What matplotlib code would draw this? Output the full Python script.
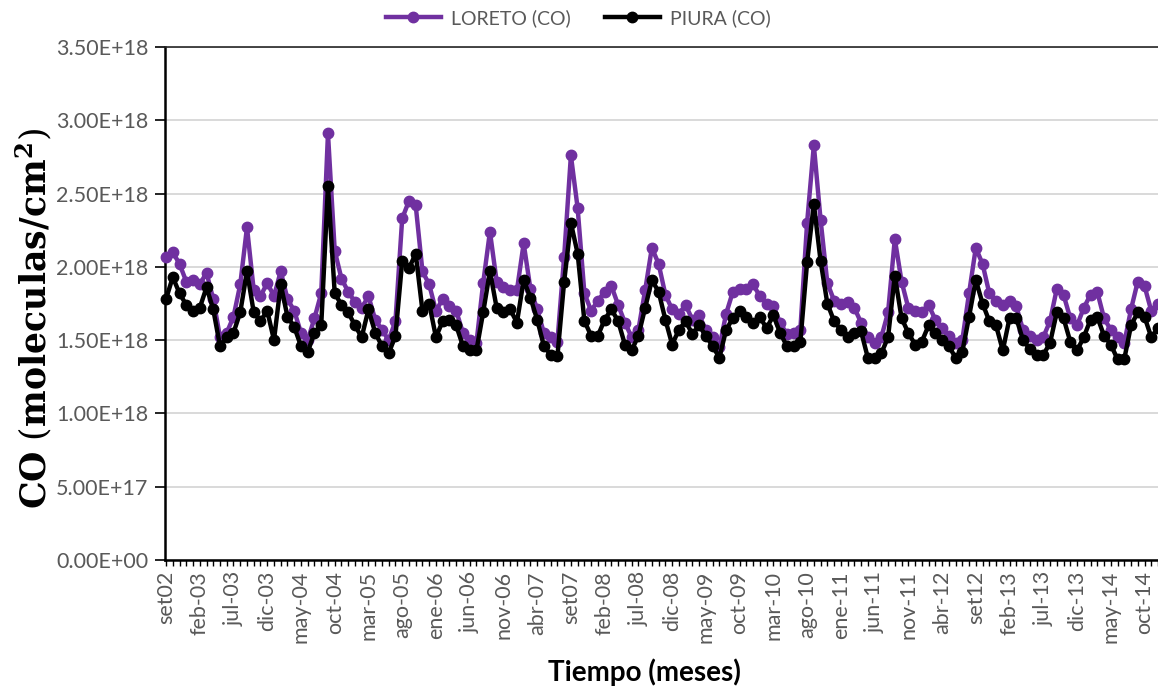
import numpy as np
import matplotlib
matplotlib.use("Agg")
import matplotlib.pyplot as plt
from matplotlib.ticker import FuncFormatter, MultipleLocator

# Monthly total-column CO, Sep 2002 - Dec 2014 (units of 1e18 molecules/cm^2)
loreto_co = [
    2.07, 2.10, 2.02, 1.90, 1.91, 1.88, 1.96, 1.78, 1.52, 1.55, 1.66, 1.88,
    2.27, 1.84, 1.80, 1.89, 1.80, 1.97, 1.78, 1.70, 1.55, 1.50, 1.65, 1.82,
    2.91, 2.11, 1.92, 1.83, 1.76, 1.72, 1.80, 1.64, 1.57, 1.50, 1.63, 2.33,
    2.45, 2.42, 1.97, 1.88, 1.70, 1.78, 1.73, 1.70, 1.55, 1.50, 1.48, 1.89,
    2.24, 1.90, 1.86, 1.84, 1.84, 2.16, 1.85, 1.71, 1.55, 1.52, 1.49, 2.07,
    2.76, 2.40, 1.82, 1.70, 1.77, 1.83, 1.87, 1.74, 1.62, 1.52, 1.57, 1.84,
    2.13, 2.02, 1.81, 1.71, 1.68, 1.74, 1.64, 1.67, 1.57, 1.52, 1.45, 1.68,
    1.83, 1.85, 1.85, 1.88, 1.80, 1.75, 1.73, 1.62, 1.54, 1.55, 1.57, 2.30,
    2.83, 2.32, 1.89, 1.77, 1.75, 1.76, 1.72, 1.62, 1.52, 1.48, 1.52, 1.69,
    2.19, 1.90, 1.72, 1.70, 1.69, 1.74, 1.64, 1.58, 1.53, 1.48, 1.50, 1.82,
    2.13, 2.02, 1.82, 1.77, 1.74, 1.77, 1.73, 1.57, 1.53, 1.50, 1.52, 1.63,
    1.85, 1.81, 1.65, 1.60, 1.72, 1.81, 1.83, 1.65, 1.57, 1.52, 1.48, 1.71,
    1.90, 1.87, 1.70, 1.75,
]

piura_co = [
    1.78, 1.93, 1.82, 1.74, 1.70, 1.72, 1.86, 1.71, 1.46, 1.52, 1.55, 1.69,
    1.97, 1.69, 1.63, 1.70, 1.50, 1.88, 1.66, 1.59, 1.46, 1.42, 1.55, 1.60,
    2.55, 1.82, 1.74, 1.69, 1.60, 1.52, 1.71, 1.55, 1.46, 1.41, 1.53, 2.04,
    1.99, 2.09, 1.70, 1.75, 1.52, 1.63, 1.64, 1.60, 1.46, 1.43, 1.43, 1.69,
    1.97, 1.72, 1.69, 1.71, 1.62, 1.91, 1.79, 1.64, 1.46, 1.40, 1.39, 1.90,
    2.30, 2.09, 1.63, 1.53, 1.53, 1.64, 1.71, 1.63, 1.47, 1.43, 1.53, 1.72,
    1.91, 1.83, 1.64, 1.47, 1.57, 1.63, 1.54, 1.60, 1.53, 1.46, 1.38, 1.57,
    1.65, 1.70, 1.66, 1.62, 1.66, 1.58, 1.67, 1.55, 1.46, 1.46, 1.49, 2.03,
    2.43, 2.04, 1.75, 1.63, 1.57, 1.52, 1.55, 1.56, 1.38, 1.38, 1.41, 1.52,
    1.94, 1.65, 1.55, 1.47, 1.49, 1.60, 1.55, 1.50, 1.46, 1.38, 1.42, 1.66,
    1.91, 1.75, 1.63, 1.60, 1.43, 1.65, 1.65, 1.50, 1.44, 1.40, 1.40, 1.48,
    1.69, 1.65, 1.49, 1.43, 1.52, 1.64, 1.66, 1.53, 1.47, 1.37, 1.37, 1.60,
    1.69, 1.66, 1.52, 1.58,
]

# Every fifth month gets a label
month_labels = [
    "set02", "feb-03", "jul-03", "dic-03", "may-04", "oct-04", "mar-05",
    "ago-05", "ene-06", "jun-06", "nov-06", "abr-07", "set07", "feb-08",
    "jul-08", "dic-08", "may-09", "oct-09", "mar-10", "ago-10", "ene-11",
    "jun-11", "nov-11", "abr-12", "set12", "feb-13", "jul-13", "dic-13",
    "may-14", "oct-14",
]

series_names = ["LORETO (CO)", "PIURA (CO)"]

loreto = np.array(loreto_co) * 1e18
piura = np.array(piura_co) * 1e18
months = np.arange(len(loreto))

W, H = 1158, 690
fig = plt.figure(figsize=(W / 100, H / 100), dpi=100)
ax = fig.add_axes([165 / W, 1 - 560 / H, (1158 - 165) / W, (560 - 47) / H])

purple = "#7030A0"
ax.plot(months, loreto, color=purple, lw=3.2, marker="o", ms=7.5,
        label=series_names[0], clip_on=False, zorder=3)
ax.plot(months, piura, color="black", lw=3.2, marker="o", ms=7.5,
        label=series_names[1], clip_on=False, zorder=4)

ax.set_xlim(-0.15, 147.0)
ax.set_ylim(0, 3.5e18)

tick_font = "Lato"
gray = "#595959"

ax.yaxis.set_major_locator(MultipleLocator(0.5e18))
ax.yaxis.set_major_formatter(FuncFormatter(lambda v, p: "{:.2E}".format(v)))
ax.grid(axis="y", color="#D9D9D9", lw=1.4, zorder=0)
ax.set_axisbelow(True)

ax.set_xticks(np.arange(0, len(loreto), 5))
ax.set_xticklabels(month_labels, rotation=90, va="top", ha="center")
ax.set_xticks(months, minor=True)

for lbl in ax.get_xticklabels() + ax.get_yticklabels():
    lbl.set_fontfamily(tick_font)
    lbl.set_fontsize(15.5)
    lbl.set_color(gray)

ax.tick_params(axis="x", which="both", direction="out", length=4, width=1,
               color="black", pad=4)
ax.tick_params(axis="y", direction="out", length=7, width=1.2,
               color="black", pad=5)

ax.spines["right"].set_visible(False)
ax.spines["top"].set_linewidth(1.2)
ax.spines["top"].set_color("#262626")
for side in ("left", "bottom"):
    ax.spines[side].set_linewidth(1.8)
    ax.spines[side].set_color("black")

# Serif math-style axis title
plt.rcParams["mathtext.fontset"] = "dejavuserif"
fig.text(34 / W, 1 - 318 / H,
         r"$\mathbf{CO}\ \left(\mathbf{moleculas/cm^{2}}\right)$",
         rotation=90, ha="center", va="center", fontsize=25)

fig.text(644 / W, 1 - 672 / H, "Tiempo (meses)", ha="center", va="center",
         fontsize=20, fontweight="bold", fontfamily=tick_font)

leg = fig.legend(loc="center", bbox_to_anchor=(578 / W, 1 - 18 / H), ncol=2,
                 frameon=False, handlelength=2.85, handletextpad=0.5,
                 columnspacing=1.75, prop={"family": tick_font, "size": 14})
for t in leg.get_texts():
    t.set_color(gray)

fig.savefig("out.png", dpi=100)
